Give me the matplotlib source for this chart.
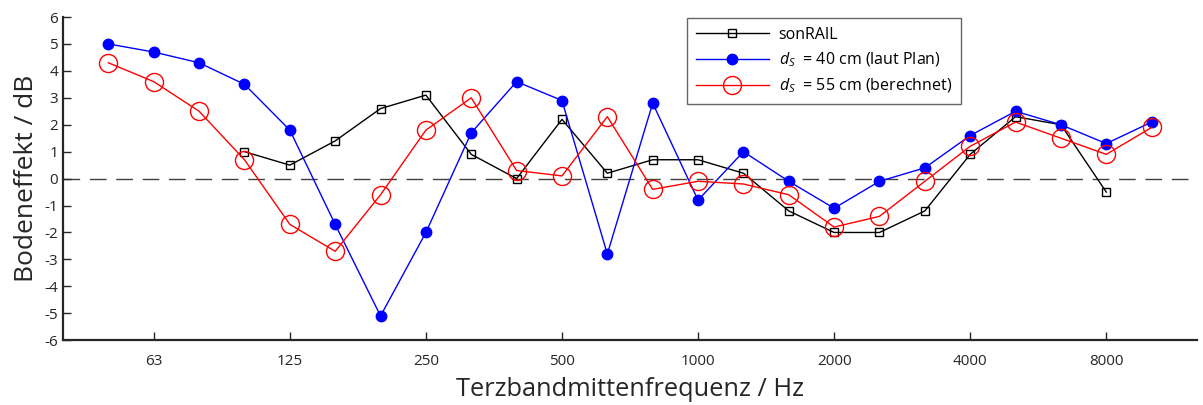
import numpy as np
import matplotlib.pyplot as plt

# third-octave band centre frequencies (Hz)
bands = [50, 63, 80, 100, 125, 160, 200, 250, 315, 400, 500, 630,
         800, 1000, 1250, 1600, 2000, 2500, 3150, 4000, 5000, 6300, 8000, 10000]

# ground effect in dB per band (None = not measured)
sonrail = [None, None, None, 1.0, 0.5, 1.4, 2.6, 3.1, 0.9, 0.0, 2.2, 0.2,
           0.7, 0.7, 0.2, -1.2, -2.0, -2.0, -1.2, 0.9, 2.3, 2.0, -0.5, None]
ds40 = [5.0, 4.7, 4.3, 3.5, 1.8, -1.7, -5.1, -2.0, 1.7, 3.6, 2.9, -2.8,
        2.8, -0.8, 1.0, -0.1, -1.1, -0.1, 0.4, 1.6, 2.5, 2.0, 1.3, 2.1]
ds55 = [4.3, 3.6, 2.5, 0.7, -1.7, -2.7, -0.6, 1.8, 3.0, 0.3, 0.1, 2.3,
        -0.4, -0.1, -0.2, -0.6, -1.8, -1.4, -0.1, 1.2, 2.1, 1.5, 0.9, 1.9]

tick_bands = [63, 125, 250, 500, 1000, 2000, 4000, 8000]

plt.rcParams['font.family'] = ['Open Sans', 'DejaVu Sans']
plt.rcParams['axes.unicode_minus'] = False
plt.rcParams['mathtext.fontset'] = 'custom'
plt.rcParams['mathtext.it'] = 'Open Sans:italic'
plt.rcParams['mathtext.rm'] = 'Open Sans'

x = np.arange(len(bands))
y_son = np.array([np.nan if v is None else v for v in sonrail])

fig = plt.figure(figsize=(12.03, 4.05), dpi=100)
ax = fig.add_axes([0.0524, 0.16, 0.9426, 0.798])

ax.axhline(0, color='#404040', lw=1.0, ls=(0, (12, 7)), zorder=1)

ax.plot(x, y_son, color='black', lw=1.0, marker='s', ms=5.5,
        mfc='none', mec='black', mew=1.0, label='sonRAIL', zorder=3)
ax.plot(x, ds40, color='blue', lw=1.0, marker='o', ms=7.5,
        mfc='blue', mec='blue', label=r'$d_S$  = 40 cm (laut Plan)', zorder=4)
ax.plot(x, ds55, color='red', lw=1.0, marker='o', ms=13,
        mfc='none', mec='red', mew=1.0, label=r'$d_S$  = 55 cm (berechnet)', zorder=5)

ax.set_xlim(-1, 24)
ax.set_ylim(-6, 6)
ax.set_yticks(np.arange(-6, 7, 1))
ax.set_xticks([bands.index(b) for b in tick_bands])
ax.set_xticklabels([str(b) for b in tick_bands])

for s in ['top', 'right']:
    ax.spines[s].set_visible(False)
for s in ['left', 'bottom']:
    ax.spines[s].set_color('#262626')
    ax.spines[s].set_linewidth(1.6)
ax.tick_params(direction='in', length=6, width=1.0, colors='#262626',
               labelsize=11, labelcolor='#262626')
ax.tick_params(axis='x', pad=10)

ax.set_xlabel('Terzbandmittenfrequenz / Hz', fontsize=18.3, color='#262626', labelpad=6)
ax.set_ylabel('Bodeneffekt / dB', fontsize=19, color='#262626', labelpad=4)

leg = ax.legend(loc='upper left', bbox_to_anchor=(0.543, 1.022), fontsize=11.5,
                handlelength=4.6, frameon=True, fancybox=False,
                edgecolor='#404040', borderpad=0.55, labelspacing=0.5,
                handletextpad=0.6)
leg.get_frame().set_linewidth(1.0)

fig.savefig('out.png', dpi=100)
